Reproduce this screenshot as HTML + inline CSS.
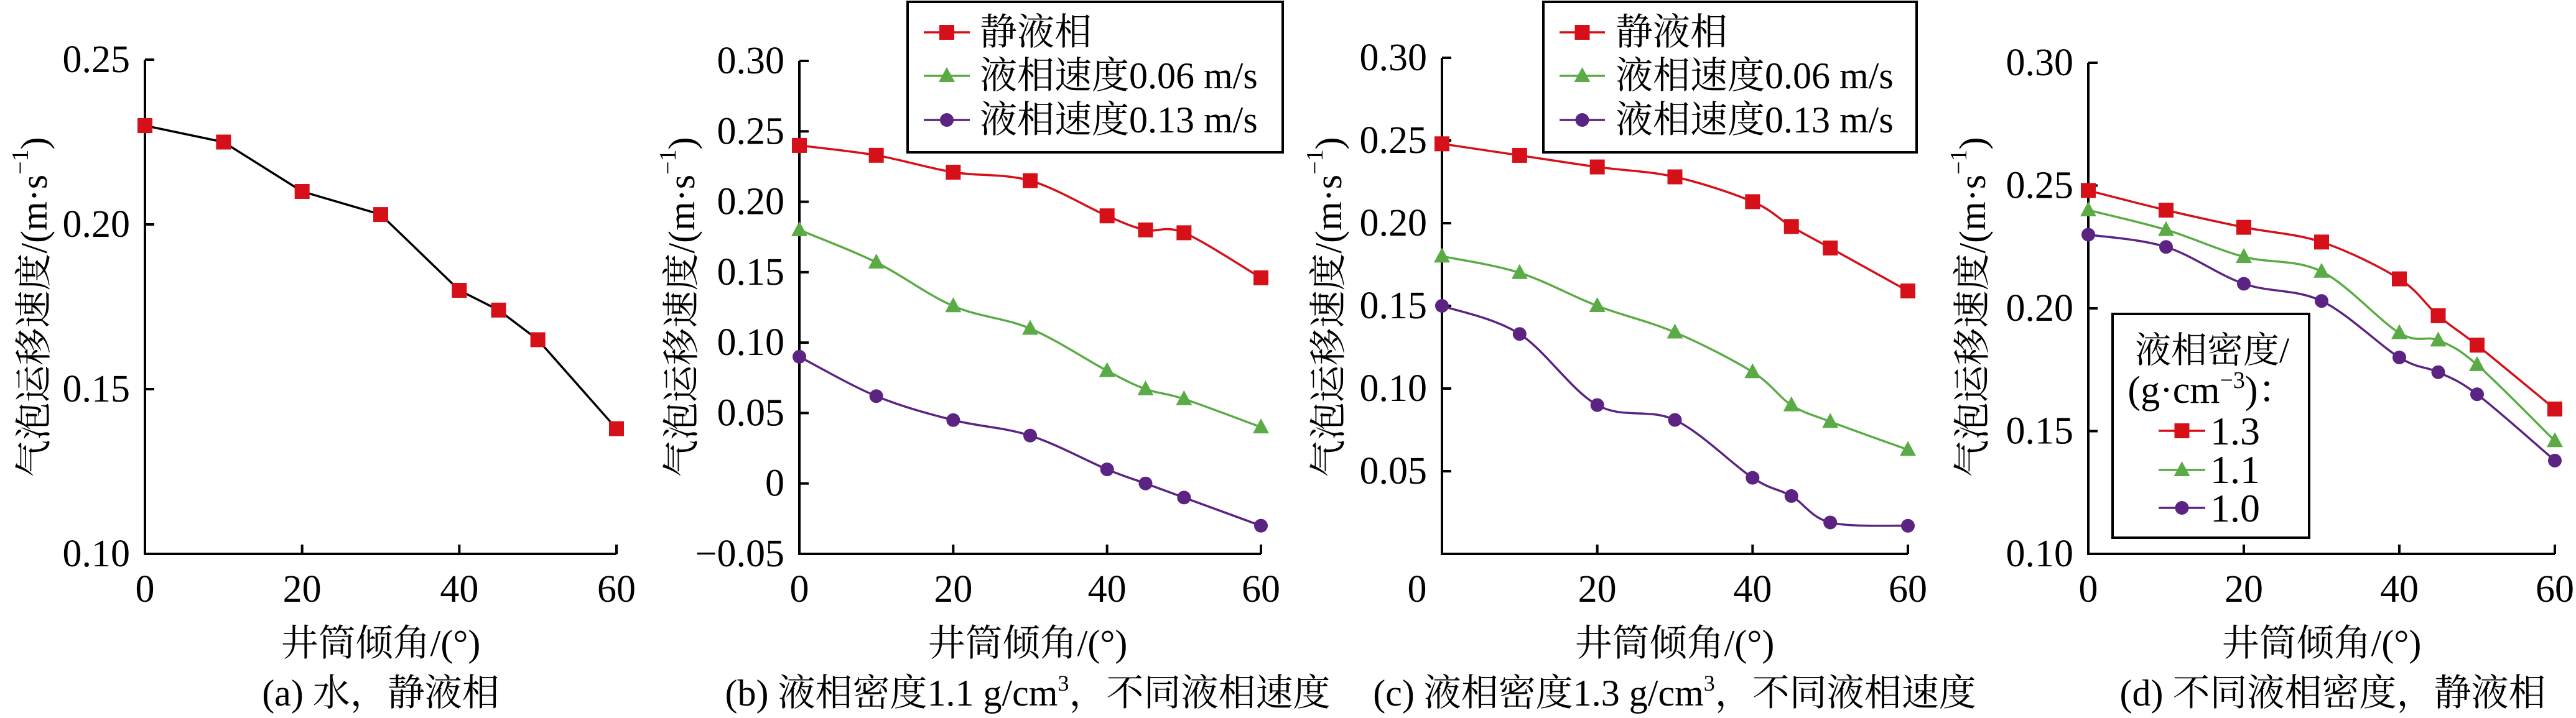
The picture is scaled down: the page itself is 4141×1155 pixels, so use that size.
<!DOCTYPE html>
<html><head><meta charset="utf-8"><style>
html,body{margin:0;padding:0;background:#fff;}
svg{display:block;}
text{font-family:"Liberation Serif","Noto Serif CJK SC",serif;fill:#000;}
</style></head><body>
<svg id="s" width="4141" height="1155" viewBox="0 0 4141 1155" xmlns="http://www.w3.org/2000/svg">
<g id="plots"></g>
<!-- Y axis titles -->
<text font-size="60" text-anchor="middle" dominant-baseline="central" transform="translate(55,494) rotate(-90)">气泡运移速度/(m·s<tspan font-size="38" dy="-22">−1</tspan><tspan dy="22">)</tspan></text>
<text font-size="60" text-anchor="middle" dominant-baseline="central" transform="translate(1096,494) rotate(-90)">气泡运移速度/(m·s<tspan font-size="38" dy="-22">−1</tspan><tspan dy="22">)</tspan></text>
<text font-size="60" text-anchor="middle" dominant-baseline="central" transform="translate(2136,494) rotate(-90)">气泡运移速度/(m·s<tspan font-size="38" dy="-22">−1</tspan><tspan dy="22">)</tspan></text>
<text font-size="60" text-anchor="middle" dominant-baseline="central" transform="translate(3171,494) rotate(-90)">气泡运移速度/(m·s<tspan font-size="38" dy="-22">−1</tspan><tspan dy="22">)</tspan></text>
<!-- X axis titles -->
<text font-size="60" text-anchor="middle" x="612" y="1055">井筒倾角/(°)</text>
<text font-size="60" text-anchor="middle" x="1652" y="1055">井筒倾角/(°)</text>
<text font-size="60" text-anchor="middle" x="2692" y="1055">井筒倾角/(°)</text>
<text font-size="60" text-anchor="middle" x="3732" y="1055">井筒倾角/(°)</text>
<!-- captions -->
<text font-size="60" text-anchor="middle" x="612" y="1135">(a) 水，静液相</text>
<text font-size="60" text-anchor="middle" x="1652" y="1135">(b) 液相密度1.1 g/cm<tspan font-size="36" dy="-24">3</tspan><tspan dy="24">，不同液相速度</tspan></text>
<text font-size="60" text-anchor="middle" x="2692" y="1135">(c) 液相密度1.3 g/cm<tspan font-size="36" dy="-24">3</tspan><tspan dy="24">，不同液相速度</tspan></text>
<text font-size="60" text-anchor="middle" x="3750" y="1135">(d) 不同液相密度，静液相</text>
<!-- legends -->
<rect x="1459" y="3" width="603" height="242" fill="#fff" stroke="#000" stroke-width="4"/>
<text font-size="60" x="1575" y="72">静液相</text>
<text font-size="60" x="1575" y="142">液相速度0.06 m/s</text>
<text font-size="60" x="1575" y="213">液相速度0.13 m/s</text>
<rect x="2481" y="3" width="600" height="242" fill="#fff" stroke="#000" stroke-width="4"/>
<text font-size="60" x="2597" y="72">静液相</text>
<text font-size="60" x="2597" y="142">液相速度0.06 m/s</text>
<text font-size="60" x="2597" y="213">液相速度0.13 m/s</text>
<rect x="3396" y="505" width="316" height="360" fill="#fff" stroke="#000" stroke-width="4"/>
<text font-size="58" x="3556" y="583" text-anchor="middle">液相密度/</text>
<text font-size="62" x="3556" y="648" text-anchor="middle">(g·cm<tspan font-size="38" dy="-24">−3</tspan><tspan dy="24">)：</tspan></text>
<text font-size="64" x="3553" y="715">1.3</text>
<text font-size="64" x="3553" y="777">1.1</text>
<text font-size="64" x="3553" y="839">1.0</text>
<g id="legm"></g>
</svg>
<script>
var NS="http://www.w3.org/2000/svg";
var R="#d51018",G="#5aab46",P="#5b2382";
function el(t,a,p){var e=document.createElementNS(NS,t);for(var k in a)e.setAttribute(k,a[k]);(p||document.getElementById('plots')).appendChild(e);return e;}
function txt(x,y,s,anchor){var e=el('text',{x:x,y:y,'font-size':62,'text-anchor':anchor,'dominant-baseline':'central'});e.textContent=s;}
function marker(type,x,y,c,p){
 if(type=='s')el('rect',{x:x-12,y:y-12,width:24,height:24,fill:c},p);
 else if(type=='t')el('polygon',{points:(x)+','+(y-14)+' '+(x-13)+','+(y+10)+' '+(x+13)+','+(y+10),fill:c},p);
 else el('ellipse',{cx:x,cy:y,rx:11,ry:11,fill:c},p);
}
function pathFor(pts,smooth){
 var d='M'+pts[0][0]+','+pts[0][1];
 for(var i=0;i<pts.length-1;i++){
  if(!smooth){d+=' L'+pts[i+1][0]+','+pts[i+1][1];continue;}
  var p0=pts[i-1]||pts[i],p1=pts[i],p2=pts[i+1],p3=pts[i+2]||pts[i+1];
  var c1=[p1[0]+(p2[0]-p0[0])/6,p1[1]+(p2[1]-p0[1])/6];
  var c2=[p2[0]-(p3[0]-p1[0])/6,p2[1]-(p3[1]-p1[1])/6];
  d+=' C'+c1[0]+','+c1[1]+' '+c2[0]+','+c2[1]+' '+p2[0]+','+p2[1];
 }
 return d;
}
var X=[0,10,20,30,40,45,50,60];
function panel(o){
 var sx=function(v){return o.x0+(o.x1-o.x0)*v/60;};
 var sy=function(v){return o.yb-(v-o.ymin)/(o.ymax-o.ymin)*(o.yb-o.yt);};
 // axes
 el('path',{d:'M'+o.x0+','+o.yt+' L'+o.x0+','+o.yb+' L'+o.x1+','+o.yb,fill:'none',stroke:'#000','stroke-width':4});
 for(var v=o.ymin;v<=o.ymax+1e-9;v+=o.step){
  var y=sy(v);
  el('line',{x1:o.x0,y1:y,x2:o.x0+15,y2:y,stroke:'#000','stroke-width':4});
  var lab=o.fmt(v); if(lab!==null) txt(o.x0-24,y,lab,'end');
 }
 [0,20,40,60].forEach(function(v){
  el('line',{x1:sx(v),y1:o.yb,x2:sx(v),y2:o.yb-15,stroke:'#000','stroke-width':4});
  txt(sx(v)+(v==0?o.zoff:0),948,String(v),'middle');
 });
 o.series.forEach(function(s){
  var pts=X.map(function(x,i){return [sx(x),sy(s.y[i])];});
  el('path',{d:pathFor(pts,o.smooth),fill:'none',stroke:s.line||s.c,'stroke-width':3.5});
  pts.forEach(function(p){marker(s.m,p[0],p[1],s.c);});
 });
}
function f2(v){var r=Math.round(v*100)/100; if(Math.abs(r)<1e-9) return '0'; return (r<0?'−':'')+Math.abs(r).toFixed(2);}
panel({x0:233,x1:991,yt:96,yb:891,ymin:0.10,ymax:0.25,step:0.05,fmt:f2,zoff:0,smooth:false,
 series:[{m:'s',c:R,line:'#000',y:[0.23,0.225,0.21,0.203,0.18,0.174,0.165,0.138]}]});
panel({x0:1285,x1:2027,yt:98,yb:891,ymin:-0.05,ymax:0.30,step:0.05,fmt:f2,zoff:0,smooth:true,
 series:[{m:'s',c:R,y:[0.24,0.233,0.221,0.215,0.19,0.18,0.178,0.146]},
 {m:'t',c:G,y:[0.18,0.157,0.126,0.11,0.08,0.067,0.06,0.04]},
 {m:'c',c:P,y:[0.09,0.062,0.045,0.034,0.01,0,-0.01,-0.03]}]});
panel({x0:2318,x1:3067,yt:93,yb:891,ymin:0,ymax:0.30,step:0.05,fmt:function(v){return v<0.01?null:f2(v);},zoff:-40,smooth:true,
 series:[{m:'s',c:R,y:[0.248,0.241,0.234,0.228,0.213,0.198,0.185,0.159]},
 {m:'t',c:G,y:[0.18,0.17,0.15,0.134,0.11,0.09,0.08,0.063]},
 {m:'c',c:P,y:[0.15,0.133,0.09,0.081,0.046,0.035,0.019,0.017]}]});
panel({x0:3357,x1:4107,yt:101,yb:891,ymin:0.10,ymax:0.30,step:0.05,fmt:f2,zoff:0,smooth:true,
 series:[{m:'s',c:R,y:[0.248,0.24,0.233,0.227,0.212,0.197,0.185,0.159]},
 {m:'t',c:G,y:[0.24,0.232,0.221,0.215,0.19,0.187,0.177,0.146]},
 {m:'c',c:P,y:[0.23,0.225,0.21,0.203,0.18,0.174,0.165,0.138]}]});
var lg=document.getElementById('legm');
function legRow(x1,x2,y,m,c){el('line',{x1:x1,y1:y,x2:x2,y2:y,stroke:c,'stroke-width':3.5},lg);marker(m,(x1+x2)/2,y,c,lg);}
[[1485,1559],[2507,2580]].forEach(function(a){
 legRow(a[0],a[1],52,'s',R);legRow(a[0],a[1],122,'t',G);legRow(a[0],a[1],193,'c',P);
});
legRow(3470,3545,693,'s',R);legRow(3470,3545,756,'t',G);legRow(3470,3545,817,'c',P);
</script>
</body></html>
